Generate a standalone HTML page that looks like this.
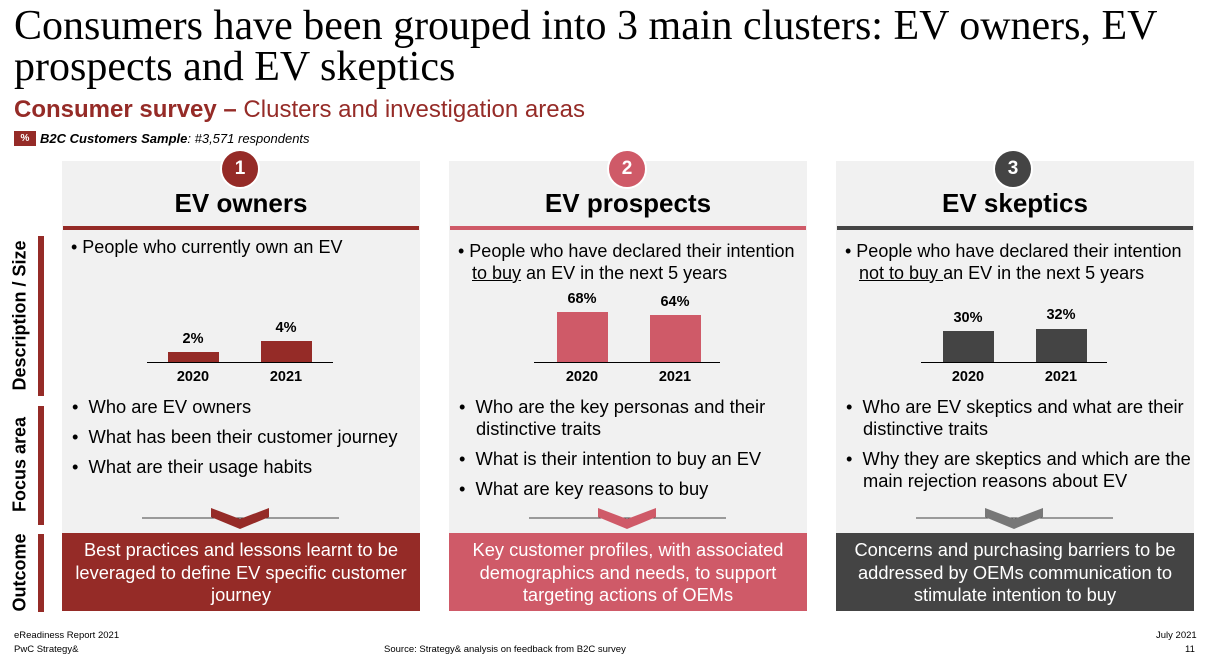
<!DOCTYPE html>
<html><head><meta charset="utf-8"><style>
*{margin:0;padding:0;box-sizing:border-box}
body{width:1216px;height:666px;background:#fff;position:relative;overflow:hidden;font-family:"Liberation Sans",sans-serif;color:#000}
.a{position:absolute}
.title{left:14px;top:6px;font-family:"Liberation Serif",serif;font-size:42px;line-height:41px;width:1210px;white-space:nowrap}
.sub{left:14px;top:96px;font-size:24px;color:#952b27}
.side{left:38px;width:6px}
.vlab{font-weight:bold;font-size:18px;transform:rotate(-90deg);white-space:nowrap;text-align:center}
.col{top:161px;width:358px;height:372px;background:#f1f1f1}
.circ{width:40px;height:40px;border-radius:50%;border:2px solid #fff;color:#fff;font-weight:bold;font-size:19px;text-align:center;line-height:36px;top:149px}
.h{font-weight:bold;font-size:26px;text-align:center;width:358px;top:188px}
.hl{height:4px;width:356px;top:226px}
.txt{font-size:18px;line-height:22px}
.bl{padding-left:14px;text-indent:-14px}
.bar{width:51px}
.pct{font-weight:bold;font-size:14.5px;width:60px;text-align:center}
.yr{font-weight:bold;font-size:14.5px;width:60px;text-align:center;top:369px}
.out{top:533px;width:358px;height:78px;color:#fff;font-size:18.3px;line-height:22.5px;text-align:center;padding-top:6px;white-space:nowrap}
.foc{font-size:18.3px;line-height:22px}
.foc div{padding-left:17px;text-indent:-17px;margin-bottom:8px}
.sm{font-size:9.5px}
</style></head><body>
<div class="a title">Consumers have been grouped into 3 main clusters: EV owners, EV<br>prospects and EV skeptics</div>
<div class="a sub"><b>Consumer survey –</b> Clusters and investigation areas</div>
<div class="a" style="left:14px;top:131px;width:22px;height:15px;background:#952b27;color:#fff;font-size:10px;text-align:center;line-height:15px;font-weight:bold">%</div>
<div class="a" style="left:40px;top:131px;font-size:13px;font-style:italic"><b>B2C Customers Sample</b>: #3,571 respondents</div>

<div class="a side" style="top:236px;height:160px;background:#952b27"></div>
<div class="a side" style="top:406px;height:119px;background:#952b27"></div>
<div class="a side" style="top:534px;height:78px;background:#952b27"></div>
<div class="a vlab" style="left:-60px;top:305px;width:160px">Description / Size</div>
<div class="a vlab" style="left:-40px;top:454px;width:120px">Focus area</div>
<div class="a vlab" style="left:-30px;top:562px;width:100px">Outcome</div>

<!-- col1 -->
<div class="a col" style="left:62px"></div>
<div class="a circ" style="left:220px;background:#952b27">1</div>
<div class="a h" style="left:62px">EV owners</div>
<div class="a hl" style="left:63px;background:#952b27"></div>
<div class="a txt bl" style="left:71px;top:236px;width:345px">• People who currently own an EV</div>
<div class="a" style="left:147px;top:362px;width:186px;height:1px;background:#000"></div>
<div class="a bar" style="left:168px;top:352px;height:10px;background:#952b27"></div>
<div class="a bar" style="left:261px;top:341px;height:21px;background:#952b27"></div>
<div class="a pct" style="left:163px;top:331px">2%</div>
<div class="a pct" style="left:256px;top:320px">4%</div>
<div class="a yr" style="left:163px">2020</div>
<div class="a yr" style="left:256px">2021</div>
<div class="a foc" style="left:72px;top:396px;width:348px"><div>• &nbsp;Who are EV owners</div><div>• &nbsp;What has been their customer journey</div><div>• &nbsp;What are their usage habits</div></div>
<svg class="a" style="left:62px;top:505px" width="358" height="28"><line x1="80" y1="13" x2="277" y2="13" stroke="#444" stroke-width="1"/><polygon points="149,3 178,14 207,3 207,12 178,24 149,12" fill="#952b27"/></svg>
<div class="a out" style="left:62px;background:#952b27">Best practices and lessons learnt to be<br>leveraged to define EV specific customer<br>journey</div>

<!-- col2 -->
<div class="a col" style="left:449px"></div>
<div class="a circ" style="left:607px;background:#cf5a68">2</div>
<div class="a h" style="left:449px">EV prospects</div>
<div class="a hl" style="left:450px;background:#cf5a68"></div>
<div class="a txt bl" style="left:458px;top:240px;width:352px">• People who have declared their intention <u>to buy</u> an EV in the next 5 years</div>
<div class="a" style="left:534px;top:362px;width:186px;height:1px;background:#000"></div>
<div class="a bar" style="left:557px;top:312px;height:50px;background:#cf5a68"></div>
<div class="a bar" style="left:650px;top:315px;height:47px;background:#cf5a68"></div>
<div class="a pct" style="left:552px;top:291px">68%</div>
<div class="a pct" style="left:645px;top:294px">64%</div>
<div class="a yr" style="left:552px">2020</div>
<div class="a yr" style="left:645px">2021</div>
<div class="a foc" style="left:459px;top:396px;width:348px"><div>• &nbsp;Who are the key personas and their distinctive traits</div><div>• &nbsp;What is their intention to buy an EV</div><div>• &nbsp;What are key reasons to buy</div></div>
<svg class="a" style="left:449px;top:505px" width="358" height="28"><line x1="80" y1="13" x2="277" y2="13" stroke="#444" stroke-width="1"/><polygon points="149,3 178,14 207,3 207,12 178,24 149,12" fill="#cf5a68"/></svg>
<div class="a out" style="left:449px;background:#cf5a68">Key customer profiles, with associated<br>demographics and needs, to support<br>targeting actions of OEMs</div>

<!-- col3 -->
<div class="a col" style="left:836px"></div>
<div class="a circ" style="left:993px;background:#444">3</div>
<div class="a h" style="left:836px">EV skeptics</div>
<div class="a hl" style="left:837px;background:#444"></div>
<div class="a txt bl" style="left:845px;top:240px;width:355px">• People who have declared their intention <u>not to buy </u>an EV in the next 5 years</div>
<div class="a" style="left:921px;top:362px;width:186px;height:1px;background:#000"></div>
<div class="a bar" style="left:943px;top:331px;height:31px;background:#444"></div>
<div class="a bar" style="left:1036px;top:329px;height:33px;background:#444"></div>
<div class="a pct" style="left:938px;top:310px">30%</div>
<div class="a pct" style="left:1031px;top:307px">32%</div>
<div class="a yr" style="left:938px">2020</div>
<div class="a yr" style="left:1031px">2021</div>
<div class="a foc" style="left:846px;top:396px;width:360px"><div>• &nbsp;Who are EV skeptics and what are their distinctive traits</div><div>• &nbsp;Why they are skeptics and which are the main rejection reasons about EV</div></div>
<svg class="a" style="left:836px;top:505px" width="358" height="28"><line x1="80" y1="13" x2="277" y2="13" stroke="#444" stroke-width="1"/><polygon points="149,3 178,14 207,3 207,12 178,24 149,12" fill="#777"/></svg>
<div class="a out" style="left:836px;background:#444">Concerns and purchasing barriers to be<br>addressed by OEMs communication to<br>stimulate intention to buy</div>

<div class="a sm" style="left:14px;top:630px">eReadiness Report 2021</div>
<div class="a sm" style="left:14px;top:644px">PwC Strategy&amp;</div>
<div class="a sm" style="left:384px;top:644px">Source: Strategy&amp; analysis on feedback from B2C survey</div>
<div class="a sm" style="left:1156px;top:630px">July 2021</div>
<div class="a sm" style="left:1185px;top:644px">11</div>
</body></html>
